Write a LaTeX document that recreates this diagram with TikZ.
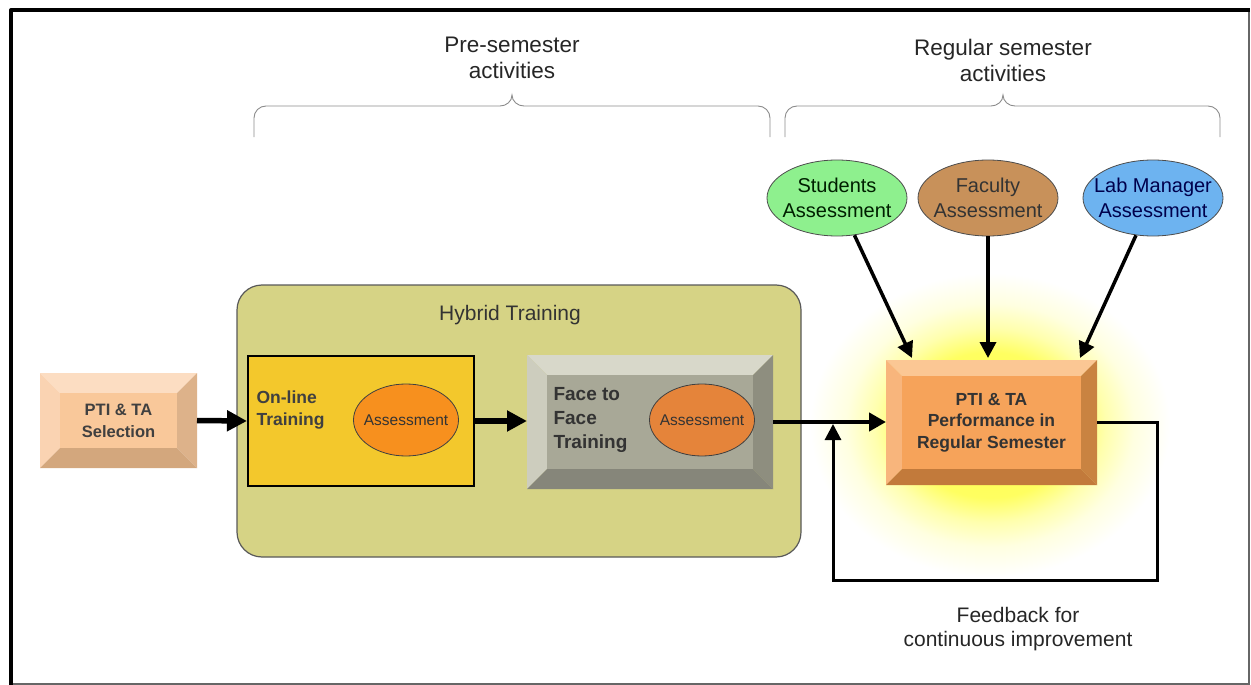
\documentclass[tikz,border=0pt]{standalone}
\usepackage{fontspec}
\setmainfont{Liberation Sans}
\usetikzlibrary{arrows.meta,shapes.geometric,calc}

% colores de las cajas con bisel
\definecolor{selcara}{HTML}{F9C89A}
\definecolor{selarr}{HTML}{FCDDC2}
\definecolor{selizq}{HTML}{FAD3B2}
\definecolor{selder}{HTML}{DDB28A}
\definecolor{selaba}{HTML}{D3A77D}
\definecolor{carcara}{HTML}{A8A897}
\definecolor{cararr}{HTML}{D8D8CA}
\definecolor{carizq}{HTML}{CDCDBE}
\definecolor{carder}{HTML}{8E8E7F}
\definecolor{caraba}{HTML}{86867A}
\definecolor{rencara}{HTML}{F6A35A}
\definecolor{renarr}{HTML}{FBC794}
\definecolor{renizq}{HTML}{F8B57C}
\definecolor{render}{HTML}{C98341}
\definecolor{renaba}{HTML}{C27A3B}
\definecolor{hibrido}{HTML}{D6D385}
\definecolor{linea}{HTML}{F3C82C}
\definecolor{naranja}{HTML}{F7901E}
\definecolor{naranja2}{HTML}{E5843A}
\definecolor{verde}{HTML}{8EF08E}
\definecolor{marron}{HTML}{C8915A}
\definecolor{azul}{HTML}{6DB3F0}

\pgfdeclareradialshading{brillo}{\pgfpoint{0bp}{0bp}}{color(0bp)=(yellow!75); color(12bp)=(yellow!62); color(16bp)=(yellow!32); color(20bp)=(yellow!12); color(25bp)=(white); color(50bp)=(white)}

% caja con bisel: nombre, x1, y1, x2, y2, bisel, prefijo de color
\newcommand{\bisel}[7]{%
  \fill[#7arr] (#2,#3) -- (#4,#3) -- ({#4-#6},{#3+#6}) -- ({#2+#6},{#3+#6}) -- cycle;
  \fill[#7izq] (#2,#3) -- ({#2+#6},{#3+#6}) -- ({#2+#6},{#5-#6}) -- (#2,#5) -- cycle;
  \fill[#7der] (#4,#3) -- (#4,#5) -- ({#4-#6},{#5-#6}) -- ({#4-#6},{#3+#6}) -- cycle;
  \fill[#7aba] (#2,#5) -- (#4,#5) -- ({#4-#6},{#5-#6}) -- ({#2+#6},{#5-#6}) -- cycle;
  \fill[#7cara] ({#2+#6},{#3+#6}) rectangle ({#4-#6},{#5-#6});
  \node[inner sep=0pt,outer sep=0pt,minimum width={(#4-#2)*1pt},minimum height={(#5-#3)*1pt}]
    (#1) at ({(#2+#4)/2},{(#3+#5)/2}) {};
}

\begin{document}
\begin{tikzpicture}[x=1pt,y=-1pt,
  flecha/.style={line width=5.5pt,-{Triangle[length=20pt,width=20pt]}},
  flechamed/.style={line width=4.5pt,-{Triangle[length=17pt,width=18pt]}},
  flechados/.style={line width=3.5pt,-{Triangle[length=16pt,width=16pt]}},
  llave/.style={draw=black!45,line width=0.9pt},
  eval/.style={ellipse,draw=black!70,line width=0.8pt,minimum width=140pt,minimum height=76pt,inner sep=0pt},
  evaltxt/.style={align=center,inner sep=0pt,font=\fontsize{20}{25}\selectfont},
  chica/.style={ellipse,draw=black!75,line width=0.8pt,minimum width=105pt,minimum height=72pt,inner sep=0pt},
  chicatxt/.style={inner sep=0pt,font=\fontsize{15.5}{19}\selectfont,text=black!80}]
  \useasboundingbox (0,0) rectangle (1251,685);
  % marco
  \draw[black!60,line width=1.5pt] (1249,10) -- (1249,684) -- (11,684);
  \draw[line width=4pt,line join=round] (11,685) -- (11,10) -- (1250,10);
  % llaves
  \draw[llave] (254,137) -- (254,118) to[out=90,in=180] (266,106) -- (500,106)
    to[out=0,in=-90] (512,95) to[out=-90,in=180] (524,106) -- (758,106)
    to[out=0,in=90] (770,118) -- (770,137);
  \draw[llave] (785,137) -- (785,118) to[out=90,in=180] (797,106) -- (991,106)
    to[out=0,in=-90] (1003,95) to[out=-90,in=180] (1015,106) -- (1208,106)
    to[out=0,in=90] (1220,118) -- (1220,137);
  \node[align=center,font=\fontsize{22.5}{26}\selectfont,text=black!85] (pre) at (512,58) {Pre-semester\\activities};
  \node[align=center,font=\fontsize{22.5}{26}\selectfont,text=black!85] (regular) at (1003,60) {Regular semester\\activities};
  % brillo
  \shade[shading=brillo] (990,425) ellipse [x radius=180,y radius=152];
  % seleccion
  \bisel{sel}{40}{373}{197}{468}{20}{sel}
  \node[align=center,font=\bfseries\fontsize{16.5}{22}\selectfont,text=black!75] at (sel) {PTI \& TA\\Selection};
  % entrenamiento hibrido
  \node[draw=black!65,line width=1.2pt,fill=hibrido,rounded corners=25pt,
    minimum width=564pt,minimum height=272pt] (hib) at (519,421) {};
  \node[font=\fontsize{21}{24}\selectfont,text=black!80] (hibtit) at (510,315) {Hybrid Training};
  \node[draw=black,line width=2pt,fill=linea,minimum width=226pt,minimum height=130pt] (online) at (361,421) {};
  \node[align=left,anchor=west,font=\bfseries\fontsize{17.5}{22}\selectfont,text=black!75] (ontxt) at (253,410) {On-line\\Training};
  \node[chica,fill=naranja] (eval1) at (406,420) {};
  \node[chicatxt] at (eval1) {Assessment};
  \bisel{f2f}{527}{355}{773}{489}{20}{car}
  \node[align=left,anchor=west,font=\bfseries\fontsize{19}{24}\selectfont,text=black!80] (f2ftxt) at (550,420) {Face to\\Face\\Training};
  \node[chica,fill=naranja2] (eval2) at (702,420) {};
  \node[chicatxt] at (eval2) {Assessment};
  % desempeno
  \bisel{ren}{886}{360}{1097}{485}{16}{ren}
  \node[align=center,font=\bfseries\fontsize{17.5}{21.5}\selectfont,text=black!80] at (ren) {PTI \& TA\\Performance in\\Regular Semester};
  % evaluaciones
  \node[eval,fill=verde] (est) at (837,198) {};
  \node[evaltxt,text=black!70!green!40!black] at (est) {Students\\Assessment};
  \node[eval,fill=marron] (fac) at (988,198) {};
  \node[evaltxt,text=black!80] at (fac) {Faculty\\Assessment};
  \node[eval,fill=azul] (lab) at (1153,198) {};
  \node[evaltxt,text=blue!30!black] at (lab) {Lab Manager\\Assessment};
  \coordinate (llega1) at (912,358);
  \coordinate (llega2) at (988,358);
  \coordinate (llega3) at (1080,358);
  \draw[flechados] (est) -- (llega1);
  \draw[flechados] (fac) -- (llega2);
  \draw[flechados] (lab) -- (llega3);
  % flujo
  \draw[flecha] (sel.east) -- (online.west);
  \draw[flecha] (online.east) -- (online.east -| f2f.west);
  \draw[flechamed] (f2f.east) -- (f2f.east -| ren.west);
  % realimentacion
  \coordinate (vuelta) at (1157,580);
  \coordinate (entra) at (833,424);
  \draw[flechados,line width=3pt] (ren.east) -| (vuelta) -| (entra);
  \node[align=center,font=\fontsize{21}{24}\selectfont,text=black!85] (fbtxt) at (1018,629) {Feedback for\\continuous improvement};
\end{tikzpicture}
\end{document}
